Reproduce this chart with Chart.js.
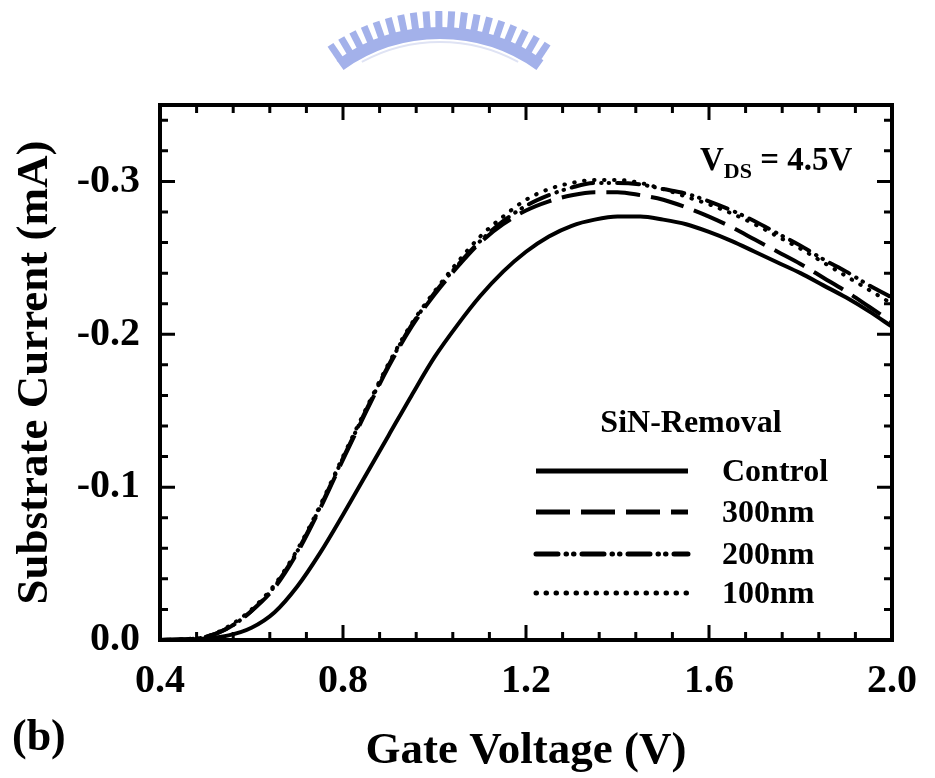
<!DOCTYPE html>
<html>
  <head>
    <title>Substrate Current vs Gate Voltage</title>
    <meta charset="utf-8" />
    <style>
      body { margin: 0; background: #fff; }
    </style>
  </head>

  <body>
    <canvas id="myChart" width="935" height="778"></canvas>
    <script src="https://cdn.jsdelivr.net/npm/chart.js@4/dist/chart.umd.min.js"></script>
    <script>
      // gate voltage (V)
      const voltage = [0.40, 0.45, 0.50, 0.55, 0.60, 0.65, 0.70, 0.75, 0.80, 0.85, 0.90,
        0.95, 1.00, 1.05, 1.10, 1.15, 1.20, 1.25, 1.30, 1.35, 1.40, 1.45, 1.50,
        1.55, 1.60, 1.65, 1.70, 1.75, 1.80, 1.85, 1.90, 1.95, 2.00];
      // substrate current (mA)
      const control = [0, -0.0003, -0.001, -0.003, -0.008, -0.018, -0.035, -0.057, -0.082,
        -0.108, -0.134, -0.160, -0.185, -0.206, -0.225, -0.241, -0.254, -0.264, -0.271,
        -0.275, -0.277, -0.277, -0.275, -0.272, -0.267, -0.261, -0.254, -0.247, -0.240,
        -0.232, -0.224, -0.215, -0.205];
      const nm300 = [0, -0.0005, -0.002, -0.008, -0.019, -0.034, -0.057, -0.086, -0.118,
        -0.149, -0.179, -0.205, -0.226, -0.244, -0.260, -0.272, -0.281, -0.287, -0.291,
        -0.293, -0.293, -0.291, -0.288, -0.283, -0.277, -0.270, -0.262, -0.254, -0.246,
        -0.237, -0.228, -0.218, -0.208];
      const nm200 = [0, -0.0005, -0.002, -0.008, -0.019, -0.035, -0.058, -0.087, -0.119,
        -0.150, -0.180, -0.206, -0.227, -0.245, -0.261, -0.274, -0.284, -0.291, -0.296,
        -0.299, -0.299, -0.298, -0.295, -0.292, -0.287, -0.281, -0.274, -0.266, -0.258,
        -0.249, -0.241, -0.232, -0.224];
      const nm100 = [0, -0.0005, -0.002, -0.009, -0.020, -0.036, -0.059, -0.088, -0.120,
        -0.151, -0.181, -0.207, -0.228, -0.247, -0.264, -0.277, -0.288, -0.295, -0.299,
        -0.301, -0.301, -0.299, -0.295, -0.290, -0.285, -0.279, -0.272, -0.264, -0.256,
        -0.247, -0.238, -0.229, -0.220];
      const seriesNames = ["Control", "300nm", "200nm", "100nm"];
      const xTicks = [0.4, 0.8, 1.2, 1.6, 2.0];
      const yTicks = [0, -0.1, -0.2, -0.3];

      const serif = "'Liberation Serif', 'Times New Roman', serif";

      function line(values, i, dash, cap) {
        return {
          label: seriesNames[i],
          data: voltage.map((v, k) => ({ x: v, y: values[k] })),
          borderColor: "#000",
          borderWidth: 4,
          borderDash: dash,
          borderCapStyle: cap,
          pointRadius: 0,
          fill: false,
          cubicInterpolationMode: "monotone"
        };
      }

      // watermark, frame, inward ticks, legend and labels
      const decor = {
        id: "decor",
        beforeDraw(chart) {
          const ctx = chart.ctx;
          const cx = 440, cy = 205;
          ctx.save();
          ctx.strokeStyle = "#a3b1ea";
          ctx.lineWidth = 7;
          for (let a = -0.6; a <= 0.61; a += 0.066) {
            const ang = -Math.PI / 2 + a;
            ctx.beginPath();
            ctx.moveTo(cx + 176 * Math.cos(ang), cy + 176 * Math.sin(ang));
            ctx.lineTo(cx + 194 * Math.cos(ang), cy + 194 * Math.sin(ang));
            ctx.stroke();
          }
          ctx.lineWidth = 12;
          ctx.beginPath();
          ctx.arc(cx, cy, 172, -Math.PI / 2 - 0.62, -Math.PI / 2 + 0.62);
          ctx.stroke();
          ctx.strokeStyle = "#dfe3f4";
          ctx.lineWidth = 2;
          ctx.beginPath();
          ctx.arc(cx, cy, 163, -Math.PI / 2 - 0.5, -Math.PI / 2 + 0.5);
          ctx.stroke();
          ctx.restore();
        },
        afterDraw(chart) {
          const ctx = chart.ctx;
          const a = chart.chartArea;
          const xs = chart.scales.x, ys = chart.scales.y;
          ctx.save();
          ctx.strokeStyle = "#000";
          ctx.lineWidth = 4;
          ctx.strokeRect(a.left, a.top, a.right - a.left, a.bottom - a.top);

          ctx.lineWidth = 3;
          for (let k = 0; k <= 20; k++) {
            const px = xs.getPixelForValue(0.4 + k * 0.08);
            const len = k % 5 === 0 ? 15 : 8;
            ctx.beginPath();
            ctx.moveTo(px, a.bottom); ctx.lineTo(px, a.bottom - len);
            ctx.moveTo(px, a.top); ctx.lineTo(px, a.top + len);
            ctx.stroke();
          }
          for (let k = 0; k <= 17; k++) {
            const py = ys.getPixelForValue(-k * 0.02);
            const len = k % 5 === 0 ? 15 : 8;
            ctx.beginPath();
            ctx.moveTo(a.left, py); ctx.lineTo(a.left + len, py);
            ctx.moveTo(a.right, py); ctx.lineTo(a.right - len, py);
            ctx.stroke();
          }

          // V_DS note
          ctx.fillStyle = "#000";
          ctx.textBaseline = "alphabetic";
          ctx.textAlign = "left";
          ctx.font = "bold 33px " + serif;
          ctx.fillText("V", 700, 170);
          let x = 700 + ctx.measureText("V").width;
          ctx.font = "bold 22px " + serif;
          ctx.fillText("DS", x, 178);
          x += ctx.measureText("DS").width;
          ctx.font = "bold 33px " + serif;
          ctx.fillText(" = 4.5V", x, 170);

          // legend
          ctx.font = "bold 32px " + serif;
          ctx.textAlign = "center";
          ctx.fillText("SiN-Removal", 691, 432);
          const rows = [471, 512, 554, 593];
          chart.data.datasets.forEach((ds, i) => {
            ctx.beginPath();
            ctx.lineWidth = 5;
            ctx.setLineDash(ds.borderDash || []);
            ctx.lineCap = ds.borderCapStyle || "butt";
            ctx.moveTo(536, rows[i]);
            ctx.lineTo(688, rows[i]);
            ctx.stroke();
            ctx.setLineDash([]);
            ctx.textAlign = "left";
            ctx.textBaseline = "middle";
            ctx.fillText(ds.label, 722, rows[i] + 2);
          });

          ctx.textBaseline = "alphabetic";
          ctx.font = "bold 44px " + serif;
          ctx.fillText("(b)", 12, 750);
          ctx.restore();
        }
      };

      const ctx = document.getElementById("myChart").getContext("2d");
      const myChart = new Chart(ctx, {
        type: "line",
        data: {
          datasets: [
            line(control, 0, [], "butt"),
            line(nm300, 1, [34, 11], "butt"),
            line(nm200, 2, [22, 8, 0.5, 7, 0.5, 8], "round"),
            line(nm100, 3, [0.5, 9.5], "round")
          ]
        },
        options: {
          responsive: false,
          devicePixelRatio: 1,
          animation: false,
          layout: { padding: { top: 105, right: 32, left: 0, bottom: 0 } },
          plugins: { legend: { display: false }, tooltip: { enabled: false } },
          scales: {
            x: {
              type: "linear",
              min: 0.4,
              max: 2.0,
              grid: { display: false, drawTicks: false },
              border: { display: false },
              afterBuildTicks: s => { s.ticks = xTicks.map(v => ({ value: v })); },
              afterFit: s => { s.height = 138; },
              ticks: {
                padding: 18,
                maxRotation: 0,
                color: "#000",
                font: { family: serif, size: 40, weight: "bold" },
                callback: v => v.toFixed(1)
              },
              title: {
                display: true,
                text: "Gate Voltage (V)",
                color: "#000",
                padding: 0,
                font: { family: serif, size: 45, weight: "bold" }
              }
            },
            y: {
              type: "linear",
              min: -0.35,
              max: 0,
              reverse: true,
              grid: { display: false, drawTicks: false },
              border: { display: false },
              afterBuildTicks: s => { s.ticks = yTicks.map(v => ({ value: v })); },
              afterFit: s => { s.width = 160; },
              ticks: {
                padding: 20,
                color: "#000",
                font: { family: serif, size: 40, weight: "bold" },
                callback: v => (v === 0 ? "0.0" : v.toFixed(1))
              },
              title: {
                display: true,
                text: "Substrate Current (mA)",
                color: "#000",
                padding: { top: 8, bottom: 0 },
                font: { family: serif, size: 45, weight: "bold" }
              }
            }
          }
        },
        plugins: [decor]
      });
    </script>
  </body>
</html>
